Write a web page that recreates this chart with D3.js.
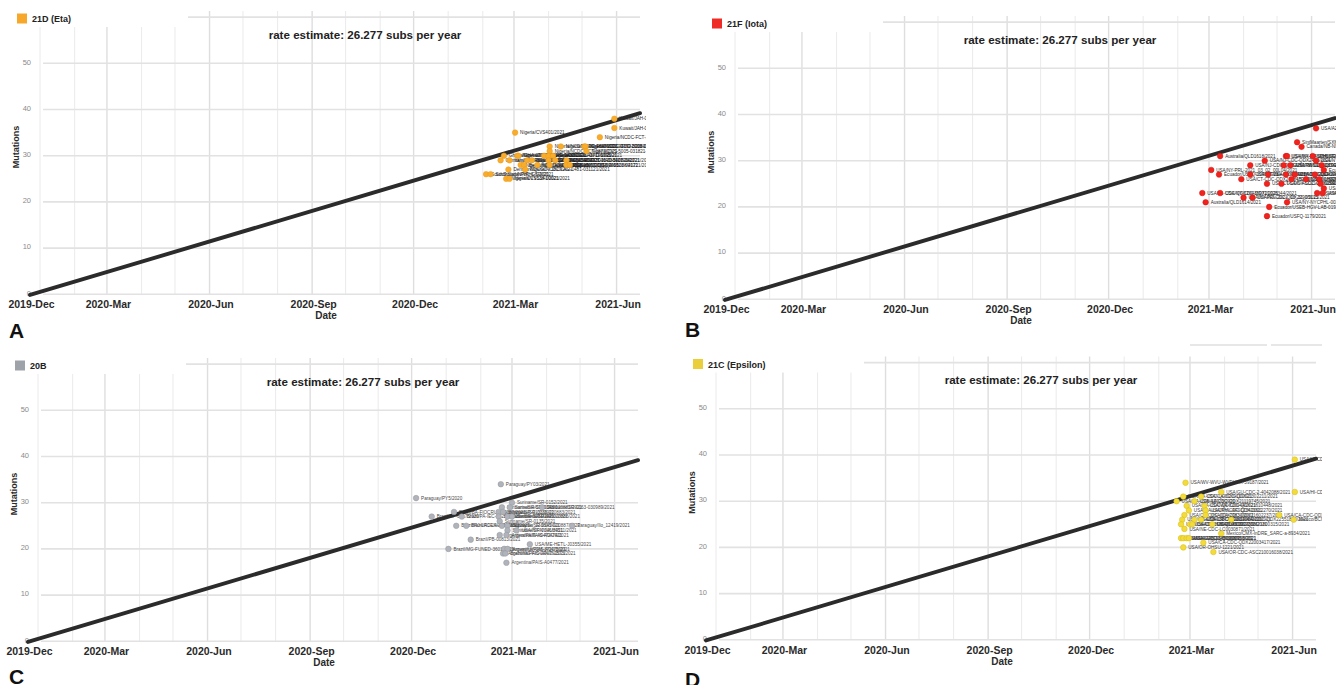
<!DOCTYPE html>
<html>
<head>
<meta charset="utf-8">
<script src="https://cdn.jsdelivr.net/npm/d3@7"></script>
<style>
  body { margin: 0; background: #fff; }
  svg { display: block; }
  text { font-family: "Liberation Sans", Arial, sans-serif; }
</style>
</head>
<body>
<svg id="fig" width="1336" height="685"></svg>
<script>
// ---- shared chart settings ----
const rateText = "rate estimate: 26.277 subs per year";
const clockRate = 26.277;              // substitutions per year
const clockOrigin = "2019-12-25";      // date where the fitted line crosses zero
const dateDomain = ["2019-12-23", "2021-06-22"];
const dateTicks = ["2019-12-23", "2020-03-01", "2020-06-01", "2020-09-01", "2020-12-01", "2021-03-01", "2021-06-01"];
const mutationTicks = [0, 10, 20, 30, 40, 50];
const mutationMax = 60;

// ---- clade 21D (Eta): [collection date, mutations, strain] ----
const etaPoints = [
  ["2021-05-30", 38, "Kuwait/JAH-0412/2021"],
  ["2021-05-30", 36, "Kuwait/JAH-0398/2021"],
  ["2021-03-02", 35, "Nigeria/CVS401/2021"],
  ["2021-05-17", 34, "Nigeria/NCDC-FCT-2087/2021"],
  ["2021-04-02", 32, "Nigeria/NCDC-LAG-1843/2021"],
  ["2021-04-12", 32, "Nigeria/NCDC-FCT-1902-031921/2021"],
  ["2021-05-03", 32, "Nigeria/NCDC-OYO-2016-050321/2021"],
  ["2021-05-04", 32, "Nigeria/NCDC-EDO-5008-050421/2021"],
  ["2021-04-02", 31, "Nigeria/NCDC-FCT-1877/2021"],
  ["2021-05-05", 31, "Nigeria/CVS-5005-031821-2021"],
  ["2021-02-20", 30, "Ghana/GHA-0231/2021"],
  ["2021-03-04", 30, "Nigeria/NCDC-LAG-1420/2021"],
  ["2021-03-05", 30, "Nigeria/NCDC-LAG-1433/2021"],
  ["2021-03-28", 30, "Nigeria/NCDC-FCT-1711/2021"],
  ["2021-04-01", 30, "Nigeria/NCDC-KAN-1760/2021"],
  ["2021-04-05", 30, "Nigeria/NCDC-OYO-1795/2021"],
  ["2021-02-17", 29, "Germany/BW-RKI-I-08713/2021"],
  ["2021-02-25", 29, "Italy/LOM-IZSLER-1192/2021"],
  ["2021-03-13", 29, "Nigeria/NCDC-FCT-1502/2021"],
  ["2021-03-17", 29, "Nigeria/NCDC-LAG-1540/2021"],
  ["2021-04-01", 29, "Nigeria/NCDC-EDO-5001-033121/2021"],
  ["2021-04-07", 29, "Nigeria/NCDC-FCT-1820-040721/2021"],
  ["2021-04-17", 29, "Nigeria/NCDC-KAD-5008-041721/2021"],
  ["2021-03-07", 28, "Nigeria/NCDC-LAG-1455/2021"],
  ["2021-03-10", 28, "Belgium/ULG-13602/2021"],
  ["2021-03-22", 28, "Nigeria/NCDC-FCT-1611/2021"],
  ["2021-04-02", 28, "Nigeria/NCDC-OYO-1850/2021"],
  ["2021-04-17", 28, "Nigeria/NCDC-EDO-5028-041721/2021"],
  ["2021-04-20", 28, "Nigeria/NCDC-KAN-5028/2021"],
  ["2021-02-24", 27, "Denmark/DCGC-71823/2021"],
  ["2021-03-11", 27, "Nigeria/NCDC-LAG-1481-031121/2021"],
  ["2021-02-04", 26, "SouthSudan/NPHL-G5/2021"],
  ["2021-02-08", 26, "SouthSudan/NPHL-G9/2021"],
  ["2021-02-22", 25, "Nigeria/CVS138-00021/2021"],
  ["2021-02-25", 25, "Nigeria/CVS141/2021"]
];

// ---- clade 21F (Iota) ----
const iotaPoints = [
  ["2021-06-05", 37, "USA/AZ-CDC-QDX23847582/2021"],
  ["2021-05-19", 34, "SintMaarten/SXM-0113/2021"],
  ["2021-05-23", 33, "Canada/NB-NML-1045/2021"],
  ["2021-03-11", 31, "Australia/QLD1618/2021"],
  ["2021-05-09", 31, "USA/MA-MASPHL-02431/2021"],
  ["2021-05-10", 31, "USA/NY-NYULH5842/2021"],
  ["2021-06-02", 31, "USA/CT-CDC-LC0102874/2021"],
  ["2021-04-20", 30, "USA/NJ-CDC-QDX2433/2021"],
  ["2021-06-05", 30, "USA/NY-PRL-2021_0603/2021"],
  ["2021-04-07", 29, "USA/NJ-CDC-QDX22617355/2021"],
  ["2021-05-07", 29, "USA/NY-NYULH6187/2021"],
  ["2021-05-13", 29, "USA/PA-CDC-QDX24190327/2021"],
  ["2021-06-10", 29, "USA/NY-Wadsworth-21031788/2021"],
  ["2021-03-03", 28, "USA/NY-PRL-2021_03_02_00L04/2021"],
  ["2021-06-12", 28, "Ecuador/USFQ-1283/2021"],
  ["2021-03-10", 27, "Ecuador/USFQ-1096/2021"],
  ["2021-04-07", 27, "USA/CT-Yale-1532/2021"],
  ["2021-04-23", 27, "USA/NY-NYULH6020/2021"],
  ["2021-05-09", 27, "USA/NY-CDC-QDX24005123/2021"],
  ["2021-05-17", 27, "USA/NJ-CDC-LC0110523/2021"],
  ["2021-06-04", 27, "USA/NY-PRL-2021_0604/2021"],
  ["2021-03-30", 26, "USA/CT-CDC-QDX21884506/2021"],
  ["2021-05-14", 26, "USA/NY-NYULH6255/2021"],
  ["2021-05-27", 26, "USA/NY-CDC-QDX24711001/2021"],
  ["2021-06-08", 26, "USA/PA-CDC-QDX25001/2021"],
  ["2021-04-22", 25, "USA/CT-CDC-ASC210020/2021"],
  ["2021-05-05", 25, "USA/NY-CDC-QDX23600127/2021"],
  ["2021-06-09", 25, "USA/NJ-CDC-QDX2560/2021"],
  ["2021-06-12", 24, "USA/NY-PRL-2021_0611/2021"],
  ["2021-02-23", 23, "USA/FL-CDC-QDX20436971/2021"],
  ["2021-03-11", 23, "USA/NY-CDC-QDX21028344/2021"],
  ["2021-06-06", 23, "USA/MD-HP05660/2021"],
  ["2021-06-11", 23, "USA/NY-NYULH6402/2021"],
  ["2021-04-01", 22, "USA/NY-PRL-2021_03_31_05L15/2021"],
  ["2021-04-09", 22, "USA/NJ-CDC-QDX2290/2021"],
  ["2021-05-10", 21, "USA/NY-NYCPHL-002518/2021"],
  ["2021-02-26", 21, "Australia/QLD1614/2021"],
  ["2021-04-24", 20, "Ecuador/USEB-HGV-LAB-0192/2021"],
  ["2021-04-22", 18, "Ecuador/USFQ-1179/2021"]
];

// ---- clade 20B ----
const b20Points = [
  ["2021-02-19", 34, "Paraguay/PY03/2021"],
  ["2020-12-05", 31, "Paraguay/PY5/2020"],
  ["2021-03-01", 30, "Suriname/SR-0152/2021"],
  ["2021-02-20", 29, "Suriname/SR-0140/2021"],
  ["2021-02-27", 29, "Suriname/SR-0148-020882/2021"],
  ["2021-03-28", 29, "Suriname/SR-0163-030989/2021"],
  ["2021-01-08", 28, "Brazil/BA-FIOCRUZ-10087/2021"],
  ["2021-02-17", 28, "Suriname/SR-0133/2021"],
  ["2021-02-21", 28, "Suriname/SR-0136-020883/2021"],
  ["2020-12-19", 27, "Brazil/SP-0917/2020"],
  ["2021-01-15", 27, "Brazil/PA-IEC-17289/2021"],
  ["2021-02-17", 27, "Suriname/SR-0131/2021"],
  ["2021-02-25", 27, "Suriname/SR-0144-020886/2021"],
  ["2021-03-01", 27, "Suriname/SR-0150/2021"],
  ["2021-02-18", 26, "Suriname/SR-0135/2021"],
  ["2021-01-10", 25, "Brazil/RJ-LACEN-4512/2021"],
  ["2021-01-19", 25, "Brazil/RJ-LACEN-4630/2021"],
  ["2021-02-20", 25, "Paraguay/Ilo_12380/2021"],
  ["2021-02-25", 25, "Suriname/SR-0145-020887/2021"],
  ["2021-04-24", 25, "Paraguay/Ilo_12419/2021"],
  ["2021-02-25", 24, "Suriname/SR-0146/2021"],
  ["2021-03-05", 24, "USA/NY-NYULH4511/2021"],
  ["2021-02-18", 23, "Argentina/PAIS-A0472/2021"],
  ["2021-02-24", 23, "Argentina/PAIS-A0474/2021"],
  ["2021-01-23", 22, "Brazil/PB-00813/2021"],
  ["2021-03-17", 21, "USA/ME-HETL-J0355/2021"],
  ["2021-01-03", 20, "Brazil/MG-FUNED-3601/2021"],
  ["2021-02-22", 20, "Uruguay/UY-CM-3721/2021"],
  ["2021-02-25", 20, "Argentina/PAIS-A0475/2021"],
  ["2021-02-21", 19, "Argentina/PAIS-A0476/2021"],
  ["2021-02-23", 19, "Brazil/MG-FIOCRUZ-2573/2021"],
  ["2021-02-24", 17, "Argentina/PAIS-A0477/2021"]
];

// ---- clade 21C (Epsilon) ----
const epsilonPoints = [
  ["2021-06-03", 39, "USA/HI-CDC-LC0127384/2021"],
  ["2021-02-25", 34, "USA/WV-WVU-WVDHHR-59187/2021"],
  ["2021-03-29", 32, "USA/GU-CDC-2-4042088/2021"],
  ["2021-06-03", 32, "USA/HI-CDC-QDX24615030/2021"],
  ["2021-02-23", 31, "USA/CA-CDC-QDX20911/2021"],
  ["2021-03-11", 31, "USA/CA-CDC-QDX21302211/2021"],
  ["2021-02-17", 30, "USA/CA-CZB-14023/2021"],
  ["2021-03-05", 30, "USA/AZ-CDC-QDX21119745/2021"],
  ["2021-02-26", 29, "USA/CA-CDC-QDX20944/2021"],
  ["2021-03-14", 29, "USA/WA-CDC-QDX21610448/2021"],
  ["2021-02-28", 28, "USA/CA-LACPHL-AF01234/2021"],
  ["2021-03-15", 28, "USA/NV-CDC-QDX21612270/2021"],
  ["2021-02-24", 27, "USA/CA-CDC-QDX20830/2021"],
  ["2021-03-15", 27, "USA/CA-CDC-QDX21602237/2021"],
  ["2021-05-20", 27, "USA/CA-CDC-QDX24877720/2021"],
  ["2021-02-22", 26, "USA/CA-CZB-13877/2021"],
  ["2021-03-05", 26, "USA/CA-CDC-QDX21144120/2021"],
  ["2021-03-11", 26, "USA/OR-OHSU-1098/2021"],
  ["2021-04-07", 26, "USA/CA-CDC-QDX22551800/2021"],
  ["2021-06-02", 26, "Mexico/BCN-InDRE_2931/2021"],
  ["2021-02-21", 25, "USA/CA-CDPH-3000135/2021"],
  ["2021-03-01", 25, "USA/CA-CDC-QDX21017336/2021"],
  ["2021-03-03", 25, "USA/WA-UW-21030321/2021"],
  ["2021-03-21", 25, "USA/CA-CDC-QDX21800315/2021"],
  ["2021-02-24", 24, "USA/NE-CDC-LC0030871/2021"],
  ["2021-03-29", 23, "Mexico/CMX-InDRE_SARC-a-8934/2021"],
  ["2021-02-21", 22, "USA/CA-CZB-13701/2021"],
  ["2021-02-23", 22, "USA/CA-CDC-QDX20870/2021"],
  ["2021-02-26", 22, "USA/CA-CDC-QDX20958/2021"],
  ["2021-02-28", 22, "USA/CA-CDPH-3000203/2021"],
  ["2021-03-13", 21, "USA/CA-CDC-QDX22003417/2021"],
  ["2021-02-23", 20, "USA/OR-OHSU-1221/2021"],
  ["2021-03-22", 19, "USA/OR-CDC-ASC210016038/2021"]
];

// ---- panels: clade name, colours, points, placement ----
const panels = [
  { letter: "A", clade: "21D (Eta)",     fill: "#F7AC2E", stroke: "#EE9B12", key: "#F7A72A", ink: "#1e1e1e", points: etaPoints,     dx: 0,   dy: 0,     lx: 9,   ly: 338 },
  { letter: "B", clade: "21F (Iota)",    fill: "#F0231E", stroke: "#D9140F", key: "#EE2B25", ink: "#2a2a2a", points: iotaPoints,    dx: 695, dy: 5,     lx: 685, ly: 337 },
  { letter: "C", clade: "20B",           fill: "#B0B4BA", stroke: "#92979E", key: "#9EA2A9", ink: "#4a4a4a", points: b20Points,     dx: -2,  dy: 347,   lx: 9,   ly: 684 },
  { letter: "D", clade: "21C (Epsilon)", fill: "#F2DB3C", stroke: "#D8BC10", key: "#EBCF3A", ink: "#3a3a3a", points: epsilonPoints, dx: 676, dy: 345.5, lx: 685, ly: 687 }
];

const parseDate = d3.timeParse("%Y-%m-%d");
const fmtTick = d3.timeFormat("%Y-%b");
const svg = d3.select("#fig");

// layout inside one panel (panel-local pixels)
const plot = { left: 30, right: 640, gridLeft: 43, zero: 294.3, top: 17.1, gridTop: 11 };

const x = d3.scaleTime().domain(dateDomain.map(parseDate)).range([plot.left, plot.right]);
const y = d3.scaleLinear().domain([0, mutationMax]).range([plot.zero, plot.top]);

const t0 = parseDate(clockOrigin);
const yearMs = 365.25 * 24 * 3600 * 1000;
const fitted = t => clockRate * (t - t0) / yearMs;

panels.forEach((p, i) => {
  const g = svg.append("g").attr("transform", `translate(${p.dx},${p.dy})`);

  // monthly vertical grid, quarterly lines slightly darker
  const months = d3.timeMonth.range(d3.timeMonth.ceil(x.domain()[0]), x.domain()[1]);
  g.append("g").selectAll("line").data(months).join("line")
    .attr("x1", d => x(d)).attr("x2", d => x(d))
    .attr("y1", plot.gridTop).attr("y2", plot.zero)
    .attr("stroke", d => (d.getMonth() % 3 === 2) ? "#dedede" : "#ececec")
    .attr("stroke-width", d => (d.getMonth() % 3 === 2) ? 1.4 : 1.1);

  // horizontal grid every 10 mutations
  g.append("g").selectAll("line").data(d3.range(0, mutationMax + 1, 10)).join("line")
    .attr("x1", plot.gridLeft).attr("x2", plot.right)
    .attr("y1", d => y(d)).attr("y2", d => y(d))
    .attr("stroke", "#e2e2e2").attr("stroke-width", 1.6);

  // y tick labels
  g.append("g").selectAll("text").data(mutationTicks).join("text")
    .attr("x", 31).attr("y", d => y(d) + 1.2)
    .attr("text-anchor", "end").attr("font-size", 7.5).attr("fill", "#8a8a8a")
    .text(d => d);

  // x tick labels
  g.append("g").selectAll("text").data(dateTicks.map(parseDate)).join("text")
    .attr("x", d => x(d) + 1.5).attr("y", 308)
    .attr("text-anchor", "middle").attr("font-size", 10.5).attr("font-weight", "bold").attr("fill", "#2a2a2a")
    .text(d => fmtTick(d));

  g.append("text").attr("x", 326).attr("y", 319)
    .attr("text-anchor", "middle").attr("font-size", 10).attr("font-weight", "bold").attr("fill", "#2a2a2a")
    .text("Date");

  g.append("text").attr("transform", "translate(18.5,147) rotate(-90)")
    .attr("text-anchor", "middle").attr("font-size", 9).attr("font-weight", "bold").attr("fill", "#2a2a2a")
    .text("Mutations");

  g.append("text").attr("x", 365).attr("y", 38.5)
    .attr("text-anchor", "middle").attr("font-size", 11.6).attr("font-weight", "bold").attr("fill", "#222")
    .text(rateText);

  // strains: labels first, then the clock line, then the dots
  const clipId = "clip" + i;
  g.append("clipPath").attr("id", clipId).append("rect")
    .attr("x", 0).attr("y", 0).attr("width", 646).attr("height", 300);
  const data = p.points.map(([d, m, s]) => ({ date: parseDate(d), mut: m, strain: s }));
  const layer = g.append("g").attr("clip-path", `url(#${clipId})`);

  layer.append("g").selectAll("text").data(data).join("text")
    .attr("x", d => x(d.date) + 5).attr("y", d => y(d.mut) + 1.6)
    .attr("font-size", 4.6).attr("fill", p.ink)
    .text(d => d.strain);

  const span = x.domain();
  layer.append("line")
    .attr("x1", x(span[0])).attr("y1", y(fitted(span[0])))
    .attr("x2", x(span[1])).attr("y2", y(fitted(span[1])))
    .attr("stroke", "#2b2b2b").attr("stroke-width", 3.9).attr("stroke-linecap", "round");

  layer.append("g").selectAll("circle").data(data).join("circle")
    .attr("cx", d => x(d.date)).attr("cy", d => y(d.mut)).attr("r", 2.8)
    .attr("fill", p.fill).attr("stroke", p.stroke).attr("stroke-width", 0.5);

  // legend on a white card over the grid
  g.append("rect").attr("x", 0).attr("y", 0).attr("width", 188).attr("height", 27).attr("fill", "#fff");
  g.append("rect").attr("x", 17).attr("y", 13.5).attr("width", 10).attr("height", 10).attr("fill", p.key);
  g.append("text").attr("x", 32).attr("y", 22.3)
    .attr("font-size", 9).attr("font-weight", "bold").attr("fill", "#222")
    .text(p.clade);

  // panel letter
  svg.append("text").attr("x", p.lx).attr("y", p.ly)
    .attr("font-size", 21).attr("font-weight", "bold").attr("fill", "#111")
    .text(p.letter);
});

// toolbar rules above panel D
svg.append("g").selectAll("line").data([[1190, 1267], [1271, 1322]]).join("line")
  .attr("x1", d => d[0]).attr("x2", d => d[1]).attr("y1", 345).attr("y2", 345)
  .attr("stroke", "#d0d0d0").attr("stroke-width", 1.2);
</script>
</body>
</html>
